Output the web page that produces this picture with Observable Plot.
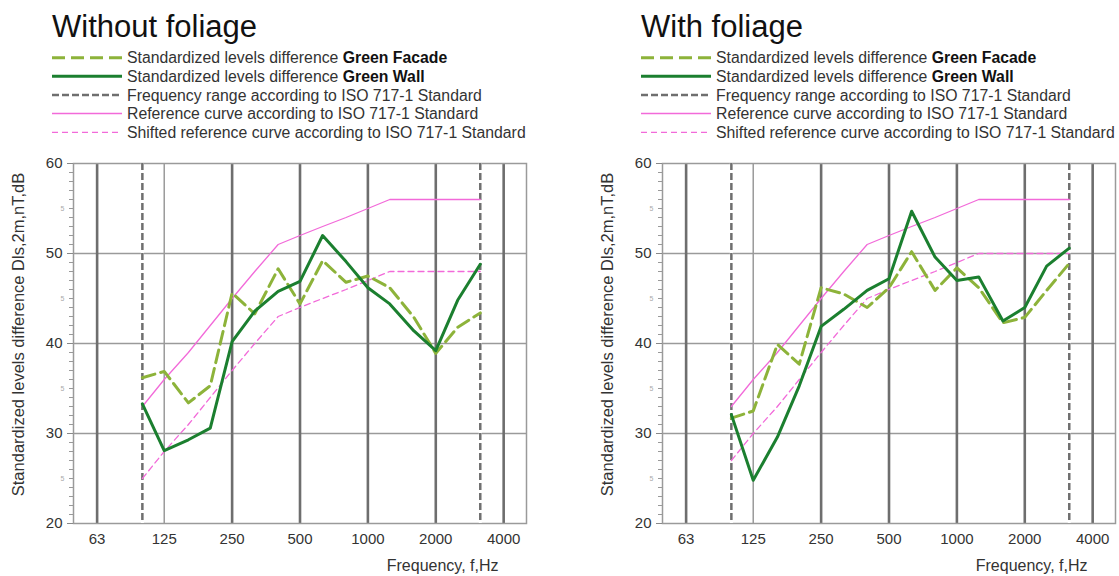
<!DOCTYPE html>
<html>
<head>
<meta charset="utf-8">
<script src="https://cdn.jsdelivr.net/npm/d3@7"></script>
<script src="https://cdn.jsdelivr.net/npm/@observablehq/plot@0.6"></script>
<style>
  html, body { margin: 0; padding: 0; background: white; }
  body { width: 1119px; height: 576px; position: relative; overflow: hidden; font-family: "Liberation Sans", Arial, sans-serif; }
  .panel { position: absolute; top: 0; width: 530px; }
  .panel svg { display: block; }
</style>
</head>
<body>
<div id="left" class="panel" style="left:0px"></div>
<div id="right" class="panel" style="left:589px"></div>
<script>
// ---- Data ----
const freqs = [100, 125, 160, 200, 250, 315, 400, 500, 630, 800, 1000, 1250, 1600, 2000, 2500, 3150];
const referenceCurve = [33, 36, 39, 42, 45, 48, 51, 52, 53, 54, 55, 56, 56, 56, 56, 56];
const shiftedLeft  = [25, 28, 31, 34, 37, 40, 43, 44, 45, 46, 47, 48, 48, 48, 48, 48];
const shiftedRight = [27, 30, 33, 36, 39, 42, 45, 46, 47, 48, 49, 50, 50, 50, 50, 50];
const facadeLeft = [36.2, 36.9, 33.4, 35.3, 45.6, 43.3, 48.3, 44.4, 49.2, 46.8, 47.5, 46.2, 42.9, 38.9, 41.8, 43.4];
const wallLeft   = [33.3, 28.1, 29.3, 30.6, 40.2, 43.6, 45.8, 46.9, 52.0, 49.1, 46.2, 44.4, 41.4, 39.2, 44.8, 48.8];
const facadeRight = [31.7, 32.5, 39.9, 37.7, 46.2, 45.5, 44.0, 46.2, 50.2, 45.9, 48.4, 46.2, 42.3, 42.9, 45.9, 48.9];
const wallRight   = [32.1, 24.8, 29.6, 35.3, 41.9, 43.8, 45.9, 47.2, 54.7, 49.6, 47.0, 47.4, 42.5, 44.0, 48.6, 50.6];
const rangeFreqs = [100, 3150];
const xTicks = [63, 125, 250, 500, 1000, 2000, 4000];
const xTickLabels = ["63", "125", "250", "500", "1000", "2000", "4000"];
const xMajorGrid = [63, 250, 500, 1000, 2000, 4000];
const xMinorGrid = [125];
const yTicks = [20, 30, 40, 50, 60];
const yGrid = [30, 40, 50];
const yMinorTicks = [21,22,23,24,25,26,27,28,29,31,32,33,34,35,36,37,38,39,41,42,43,44,45,46,47,48,49,51,52,53,54,55,56,57,58,59];
const yHalfLabels = [25, 35, 45, 55];
const titles = ["Without foliage", "With foliage"];
const legendItems = [
  {pre: "Standardized levels difference ", bold: "Green Facade", key: "facade"},
  {pre: "Standardized levels difference ", bold: "Green Wall", key: "wall"},
  {pre: "Frequency range according to ISO 717-1 Standard", bold: "", key: "range"},
  {pre: "Reference curve according to ISO 717-1 Standard", bold: "", key: "ref"},
  {pre: "Shifted reference curve according to ISO 717-1 Standard", bold: "", key: "shifted"}
];
const yLabel = "Standardized levels difference Dls,2m,nT,dB";
const xLabel = "Frequency, f,Hz";

// ---- Styles ----
const S = {
  facade: {stroke: "#8db33a", strokeWidth: 3, strokeDasharray: "13,6"},
  wall: {stroke: "#1b7f2f", strokeWidth: 3, strokeDasharray: null},
  range: {stroke: "#6f6f6f", strokeWidth: 2.5, strokeDasharray: "7,3"},
  ref: {stroke: "#f26ad9", strokeWidth: 1.3, strokeDasharray: null},
  shifted: {stroke: "#f26ad9", strokeWidth: 1.3, strokeDasharray: "6,4"}
};

function header(title) {
  const ns = "http://www.w3.org/2000/svg";
  const svg = document.createElementNS(ns, "svg");
  svg.setAttribute("width", 530); svg.setAttribute("height", 150);
  svg.setAttribute("font-family", "Liberation Sans, Arial, sans-serif");
  const t = document.createElementNS(ns, "text");
  t.setAttribute("x", 52); t.setAttribute("y", 37); t.setAttribute("font-size", 31); t.setAttribute("fill", "#111");
  t.textContent = title; svg.appendChild(t);
  const rows = [57.7, 76.3, 95, 113.5, 132.3];
  legendItems.forEach((it, i) => {
    const y = rows[i];
    const l = document.createElementNS(ns, "line");
    l.setAttribute("x1", 52); l.setAttribute("x2", 122); l.setAttribute("y1", y); l.setAttribute("y2", y);
    const st = S[it.key];
    l.setAttribute("stroke", st.stroke); l.setAttribute("stroke-width", st.strokeWidth);
    if (st.strokeDasharray) l.setAttribute("stroke-dasharray", st.strokeDasharray);
    svg.appendChild(l);
    const tx = document.createElementNS(ns, "text");
    tx.setAttribute("x", 127); tx.setAttribute("y", y + 5.5); tx.setAttribute("font-size", 15.8); tx.setAttribute("fill", "#333");
    const a = document.createElementNS(ns, "tspan"); a.textContent = it.pre; tx.appendChild(a);
    if (it.bold) { const b = document.createElementNS(ns, "tspan"); b.setAttribute("font-weight", "bold"); b.setAttribute("fill", "#111"); b.textContent = it.bold; tx.appendChild(b); }
    svg.appendChild(tx);
  });
  return svg;
}

function series(values) { return freqs.map((f, i) => ({f, v: values[i]})); }

function chart(facade, wall, shifted) {
  return Plot.plot({
    width: 530, height: 426,
    marginLeft: 73, marginRight: 4, marginTop: 13, marginBottom: 53,
    x: {type: "log", domain: [49.5, 5050], axis: null},
    y: {domain: [20, 60], axis: null},
    style: {fontFamily: "Liberation Sans, Arial, sans-serif", background: "white", color: "#333"},
    marks: [
      Plot.ruleY(yGrid, {stroke: "#9a9a9a", strokeWidth: 1.5}),
      Plot.ruleX(xMinorGrid, {stroke: "#9a9a9a", strokeWidth: 1.5}),
      Plot.ruleX(xMajorGrid, {stroke: "#6e6e6e", strokeWidth: 2.6}),
      Plot.frame({stroke: "#9a9a9a", strokeWidth: 1.5}),
      Plot.ruleX(rangeFreqs, {stroke: "white", strokeWidth: 3}),
      Plot.ruleX(rangeFreqs, {...S.range}),
      Plot.line(series(referenceCurve), {x: "f", y: "v", ...S.ref}),
      Plot.line(series(shifted), {x: "f", y: "v", ...S.shifted}),
      Plot.line(series(facade), {x: "f", y: "v", ...S.facade}),
      Plot.line(series(wall), {x: "f", y: "v", ...S.wall}),
      Plot.text(xTicks, {x: d => d, frameAnchor: "bottom", dy: 16, text: (d, i) => xTickLabels[i], fontSize: 15, fill: "#333", lineAnchor: "middle"}),
      Plot.axisY(yTicks, {tickSize: 6, tickPadding: 5, fontSize: 15, label: null, stroke: "#888", fill: "#333"}),
      Plot.axisY(yMinorTicks, {tickSize: 4, tickFormat: () => "", label: null, stroke: "#999"}),
      Plot.text(yHalfLabels, {y: d => d, frameAnchor: "left", dx: -9, text: () => "5", fontSize: 7, fill: "#aaa", textAnchor: "end"}),
      Plot.text([yLabel], {frameAnchor: "left", dx: -55, dy: -9, rotate: -90, fontSize: 16.5, fill: "#333", textAnchor: "middle"}),
      Plot.text([xLabel], {frameAnchor: "bottom-right", dx: -28, dy: 42, fontSize: 16, fill: "#333", textAnchor: "end", lineAnchor: "middle"})
    ]
  });
}

const L = document.getElementById("left");
L.appendChild(header(titles[0]));
L.appendChild(chart(facadeLeft, wallLeft, shiftedLeft));
const R = document.getElementById("right");
R.appendChild(header(titles[1]));
R.appendChild(chart(facadeRight, wallRight, shiftedRight));
</script>
</body>
</html>
